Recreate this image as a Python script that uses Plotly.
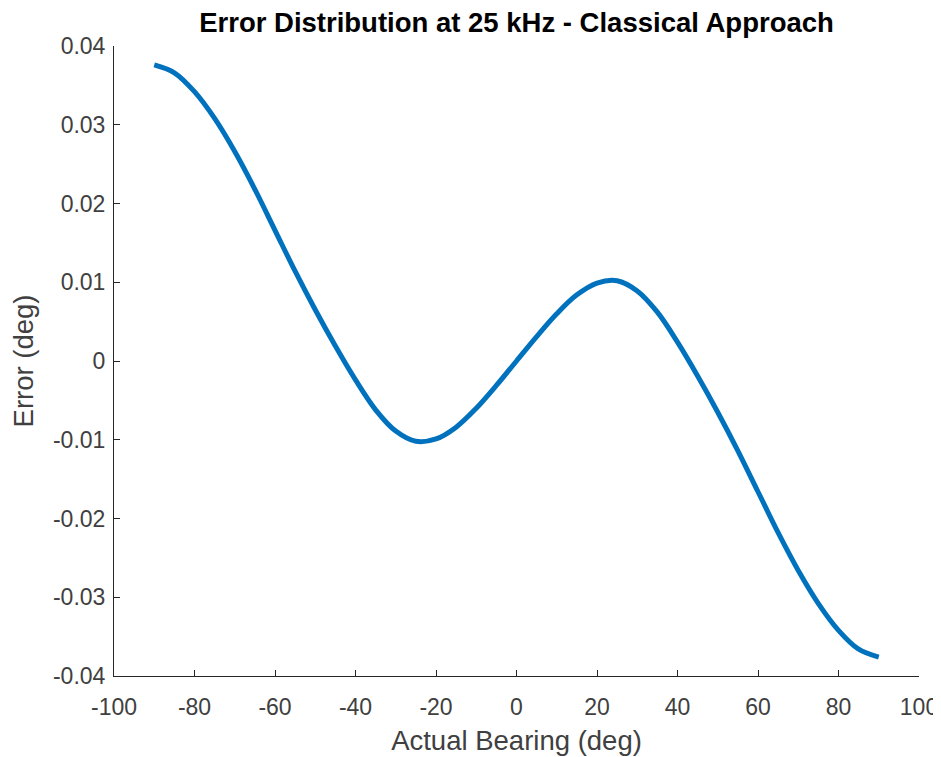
import plotly.graph_objects as go

# --- data ---
bearing = [-90, -85, -80, -75, -70, -65, -60, -55, -50, -45, -40, -35, -30, -25, -20,
           -15, -10, -5, 0, 5, 10, 15, 20, 25, 30, 35, 40, 45, 50, 55, 60, 65, 70,
           75, 80, 85, 90]
error = [0.0376, 0.0366, 0.0342, 0.0308, 0.0266, 0.0218, 0.0166, 0.0114, 0.0065,
         0.0019, -0.0024, -0.0062, -0.0089, -0.0102, -0.0099, -0.0084, -0.0060,
         -0.0031, 0.0, 0.0031, 0.0060, 0.0084, 0.0099, 0.0102, 0.0089, 0.0062,
         0.0024, -0.0019, -0.0065, -0.0114, -0.0166, -0.0218, -0.0266, -0.0308,
         -0.0342, -0.0366, -0.0376]

x_ticks = [-100, -80, -60, -40, -20, 0, 20, 40, 60, 80, 100]
x_labels = ["-100", "-80", "-60", "-40", "-20", "0", "20", "40", "60", "80", "100"]
y_ticks = [-0.04, -0.03, -0.02, -0.01, 0, 0.01, 0.02, 0.03, 0.04]
y_labels = ["-0.04", "-0.03", "-0.02", "-0.01", "0", "0.01", "0.02", "0.03", "0.04"]

FONT = "Liberation Sans, Arial, sans-serif"

# page body has an 8px margin, so the figure is a bit smaller than the window
W, H = 933, 749

fig = go.Figure()
fig.add_trace(go.Scatter(
    x=bearing, y=error, mode="lines",
    line=dict(color="#0072BD", width=5, shape="spline", smoothing=1.0),
    showlegend=False, hoverinfo="x+y"
))

axis_font = dict(family=FONT, size=23, color="#404040")
label_font = dict(family=FONT, size=27.5, color="#404040")

fig.update_layout(
    width=W, height=H,
    margin=dict(l=106, r=22, t=38, b=81, autoexpand=False),
    paper_bgcolor="white", plot_bgcolor="white",
    title=dict(text="<b>Error Distribution at 25 kHz - Classical Approach</b>",
               x=(106 + W - 22) / 2 / W, xanchor="center", y=1 - 14 / H, yanchor="middle",
               automargin=False,
               font=dict(family=FONT, size=27.5, color="#000000")),
)

fig.update_xaxes(
    range=[-100, 100], tickvals=x_ticks, ticktext=x_labels, automargin=False,
    showline=True, linecolor="#262626", linewidth=1, mirror=False,
    ticks="inside", ticklen=6, tickcolor="#262626", showgrid=False, zeroline=False,
    tickfont=axis_font, ticklabelstandoff=10,
    title=dict(text="Actual Bearing (deg)", standoff=12, font=label_font),
)
fig.update_yaxes(
    range=[-0.04, 0.04], tickvals=y_ticks, ticktext=y_labels, automargin=False,
    showline=True, linecolor="#262626", linewidth=1, mirror=False,
    ticks="inside", ticklen=6, tickcolor="#262626", showgrid=False, zeroline=False,
    tickfont=axis_font, ticklabelstandoff=3,
    title=dict(text="Error (deg)", standoff=12, font=label_font),
)

fig.write_html("out.html")
